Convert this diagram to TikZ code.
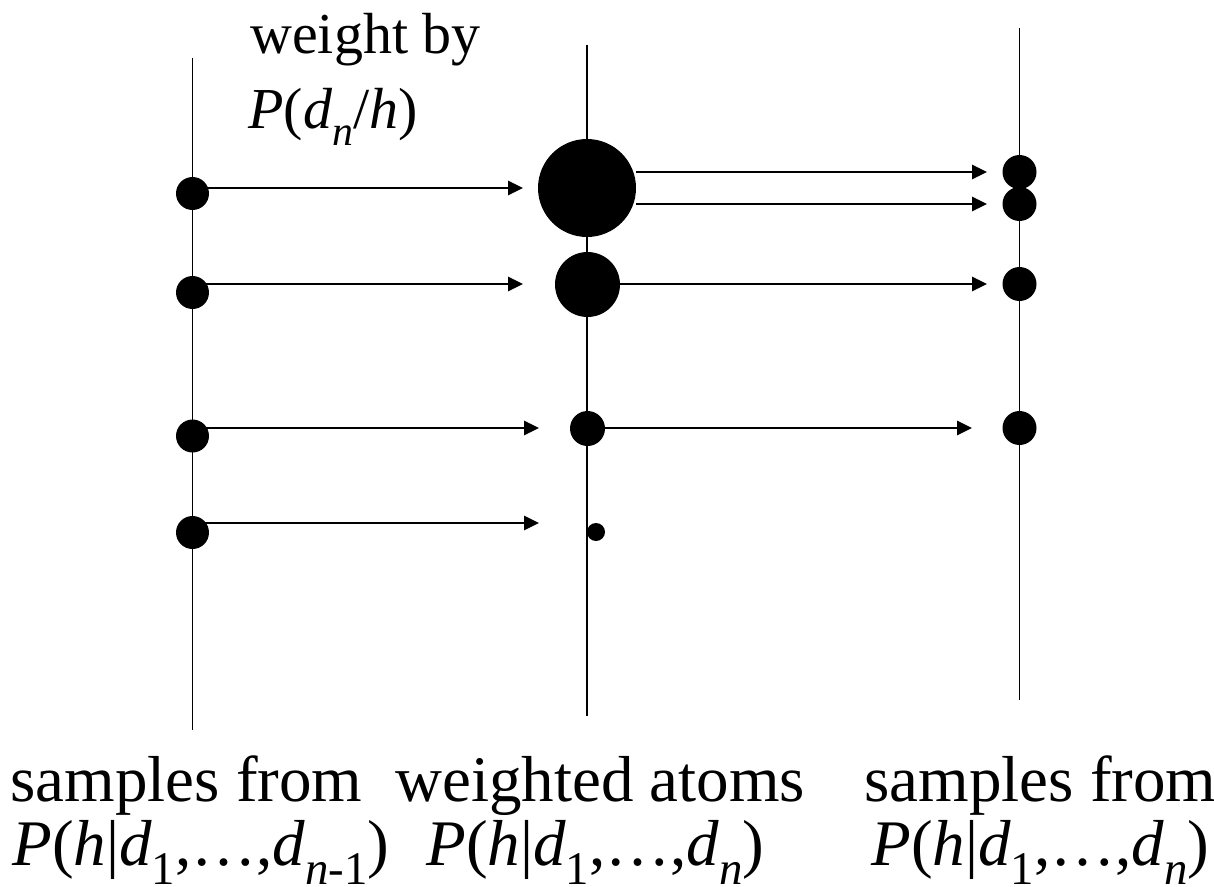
\documentclass[tikz,border=0pt]{standalone}
\usepackage{fontspec}
\setmainfont{Liberation Serif}
\usepackage{tikz}
\usetikzlibrary{arrows.meta, positioning}

% lowered subscript in text italic
\newcommand{\lowsub}[1]{\raisebox{-0.3em}{\scalebox{0.72}{#1}}}

\begin{document}
\begin{tikzpicture}[x=0.02cm, y=-0.02cm,
    axis/.style={line width=1.1pt},
    arr/.style={line width=1.3pt, -{Triangle[length=8.5pt, width=8pt]}},
    atom/.style={circle, fill=black, inner sep=0pt},
    toplabel/.style={anchor=base west, inner sep=0pt, font=\fontsize{33}{40}\selectfont},
    botlabel/.style={anchor=base west, inner sep=0pt, font=\fontsize{37}{44}\selectfont}]

    \useasboundingbox (0,0) rectangle (1214,886);

    % three time slices
    \draw[axis] (192.5,58) -- (192.5,730);
    \draw[axis] (587,45) -- (587,716);
    \draw[axis] (1019.5,28) -- (1019.5,700);

    % arrow tips
    \coordinate (t1) at (523,188);
    \coordinate (t2) at (523,284);
    \coordinate (t3) at (539,428);
    \coordinate (t4) at (539,523);
    \coordinate (u1) at (987,172);
    \coordinate (u2) at (987,204);
    \coordinate (u3) at (987,284);
    \coordinate (u4) at (972,428);

    % samples on the left
    \node[atom, minimum size=0.66cm] (s1) at (192.5,193.5) {};
    \node[atom, minimum size=0.66cm] (s2) at (192.5,292.5) {};
    \node[atom, minimum size=0.66cm] (s3) at (192.5,436) {};
    \node[atom, minimum size=0.66cm] (s4) at (192.5,532.5) {};

    % weighted atoms in the middle
    \node[atom, minimum size=1.96cm] (w1) at (587,188) {};
    \node[atom, minimum size=1.30cm] (w2) at (587.5,284.5) {};
    \node[atom, minimum size=0.70cm] (w3) at (587.5,428.5) {};
    \node[atom, minimum size=0.36cm] (w4) at (596,532) {};

    % resampled on the right
    \node[atom, minimum size=0.68cm] (r1) at (1019.5,172) {};
    \node[atom, minimum size=0.68cm] (r2) at (1019.5,204) {};
    \node[atom, minimum size=0.68cm] (r3) at (1019.5,284) {};
    \node[atom, minimum size=0.68cm] (r4) at (1019.5,428) {};

    % weighting arrows
    \draw[arr] (t1 -| s1) -- (t1);
    \draw[arr] (t2 -| s2) -- (t2);
    \draw[arr] (t3 -| s3) -- (t3);
    \draw[arr] (t4 -| s4) -- (t4);

    % resampling arrows
    \draw[arr] (u1 -| w1.east) -- (u1);
    \draw[arr] (u2 -| w1.east) -- (u2);
    \draw[arr] (u3 -| w2) -- (u3);
    \draw[arr] (u4 -| w3) -- (u4);

    % labels
    \node[toplabel] (wlab1) at (250,53) {weight by};
    \node[toplabel] (wlab2) at (248,128) {\textit{P}(\textit{d}\lowsub{\textit{n}}/\textit{h})};

    \node[botlabel] (lab1a) at (10,801) {samples from};
    \node[botlabel] (lab1b) at (12,865) {\textit{P}(\textit{h}|\textit{d}\lowsub{1},\dots,\textit{d}\lowsub{\textit{n}-1})};
    \node[botlabel] (lab2a) at (395,801) {weighted atoms};
    \node[botlabel] (lab2b) at (426,865) {\textit{P}(\textit{h}|\textit{d}\lowsub{1},\dots,\textit{d}\lowsub{\textit{n}})};
    \node[botlabel] (lab3a) at (864,801) {samples from};
    \node[botlabel] (lab3b) at (871,865) {\textit{P}(\textit{h}|\textit{d}\lowsub{1},\dots,\textit{d}\lowsub{\textit{n}})};

\end{tikzpicture}
\end{document}
